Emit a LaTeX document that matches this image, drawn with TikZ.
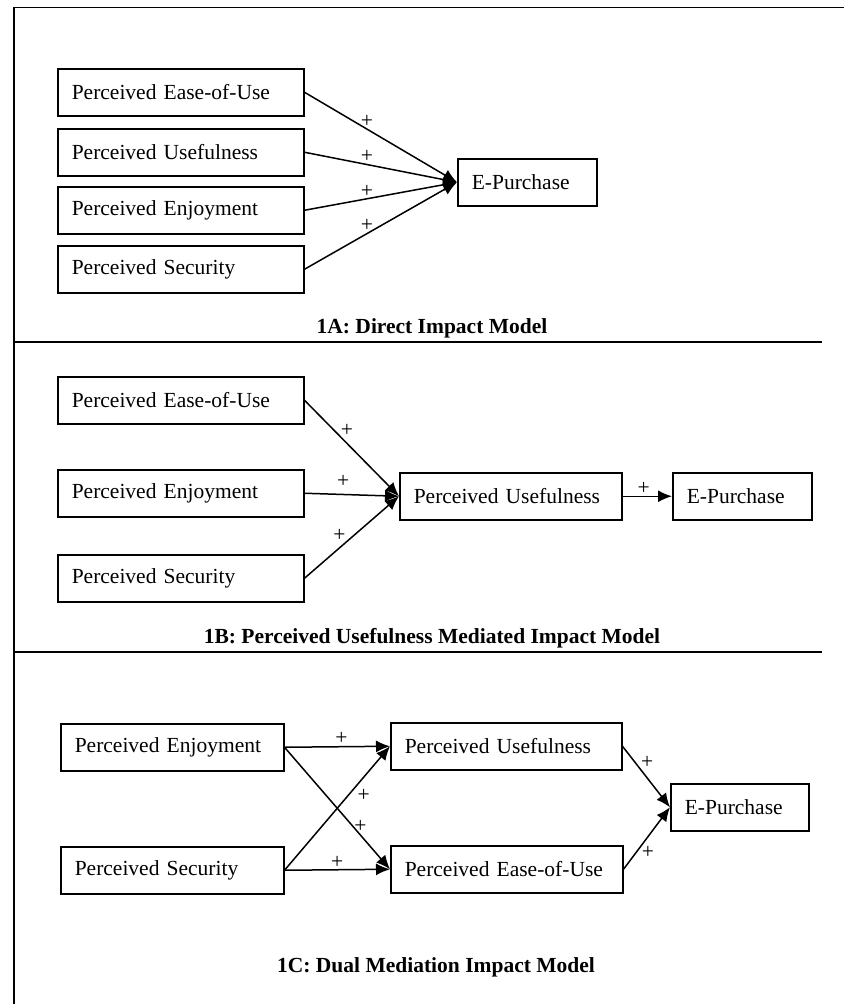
\documentclass[tikz,border=0pt]{standalone}
\usepackage{fontspec}
\setmainfont{Liberation Serif}
\usepackage{tikz}
\usetikzlibrary{positioning, calc, arrows.meta}

\begin{document}
\begin{tikzpicture}[x=1pt, y=-1pt, line width=1.5pt,
  every node/.style={font=\fontsize{21.5}{26}\selectfont},
  factor/.style={draw, anchor=north west, minimum height=47pt, inner xsep=14pt, align=left},
  title/.style={font=\fontsize{21.5}{26}\selectfont\bfseries, anchor=base},
  arr/.style={-{Latex[length=14pt,width=12pt]}},
  plus/.style={inner sep=0pt}]
\useasboundingbox (0,0) rectangle (844,1004);
\draw (14,1004) -- (14,7.5) -- (844,7.5);

% 1A
\node[factor, text width=218pt] (eouA) at (57,68) {Perceived Ease-of-Use};
\node[factor, text width=218pt] (useA) at (57,128) {Perceived Usefulness};
\node[factor, text width=218pt] (enjA) at (57,186) {Perceived Enjoyment};
\node[factor, text width=218pt] (secA) at (57,245) {Perceived Security};
\node[factor, text width=111pt] (buyA) at (457,158) {E-Purchase};
\draw[arr] (eouA.east) -- node[plus, pos=0.41, above=1pt]{+} (buyA.west);
\draw[arr] (useA.east) -- node[plus, pos=0.41, above=1pt]{+} (buyA.west);
\draw[arr] (enjA.east) -- node[plus, pos=0.41, above=1pt]{+} (buyA.west);
\draw[arr] (secA.east) -- node[plus, pos=0.41, above=1pt]{+} (buyA.west);
\node[title] (titleA) at (432,333) {1A: Direct Impact Model};
\draw[line width=1.8pt] (14,342) -- (822,342);

% 1B
\node[factor, text width=218pt] (eouB) at (57,376) {Perceived Ease-of-Use};
\node[factor, text width=218pt] (enjB) at (57,469) {Perceived Enjoyment};
\node[factor, text width=218pt] (secB) at (57,554) {Perceived Security};
\node[factor, text width=194pt] (useB) at (399,472) {Perceived Usefulness};
\node[factor, text width=111pt] (buyB) at (672,472) {E-Purchase};
\draw[arr] (eouB.east) -- node[plus, pos=0.45, above=6.5pt]{+} (useB.west);
\draw[arr] (enjB.east) -- node[plus, pos=0.41, above=6.5pt]{+} (useB.west);
\draw[arr] (secB.east) -- node[plus, pos=0.37, above=5.5pt]{+} (useB.west);
\draw[arr] (useB.east) -- node[plus, pos=0.43, above=1.5pt]{+} (buyB.west);
\node[title] (titleB) at (432,643) {1B: Perceived Usefulness Mediated Impact Model};
\draw[line width=1.8pt] (14,652) -- (822,652);

% 1C
\node[factor, text width=195pt] (enjC) at (60,723) {Perceived Enjoyment};
\node[factor, text width=195pt] (secC) at (60,846) {Perceived Security};
\node[factor, text width=203pt] (useC) at (390,722) {Perceived Usefulness};
\node[factor, text width=204pt] (eouC) at (390,845) {Perceived Ease-of-Use};
\node[factor, text width=110pt] (buyC) at (670,783) {E-Purchase};
\draw[arr] (enjC.east) -- node[plus, pos=0.54, above=1.5pt]{+} (useC.west);
\draw[arr] (enjC.east) -- node[plus, pos=0.72, above=1.5pt]{+} (eouC.west);
\draw[arr] (secC.east) -- node[plus, pos=0.6, right=9pt]{+} (useC.west);
\draw[arr] (secC.east) -- node[plus, pos=0.5, above=0.5pt]{+} (eouC.west);
\draw[arr] (useC.east) -- node[plus, pos=0.27, right=5pt]{+} (buyC.west);
\draw[arr] (eouC.east) -- node[plus, pos=0.27, right=5pt]{+} (buyC.west);
\node[title] (titleC) at (436,972) {1C: Dual Mediation Impact Model};
\end{tikzpicture}
\end{document}
